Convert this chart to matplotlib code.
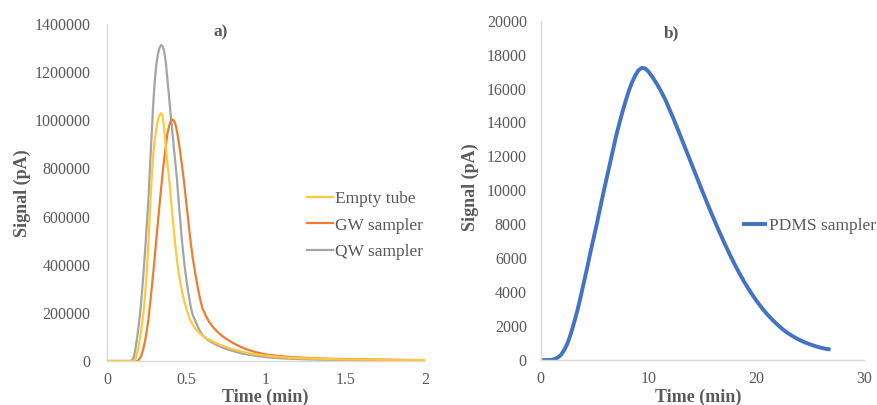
import matplotlib
matplotlib.use("Agg")
import matplotlib.pyplot as plt
from matplotlib.ticker import FixedLocator, FuncFormatter

plt.rcParams["font.family"] = ["Liberation Serif", "DejaVu Serif"]

# ---- panel a) : short-time breakthrough curves ----
empty_t = [0, 0.17, 0.18, 0.19, 0.20, 0.21, 0.22, 0.23, 0.24, 0.25, 0.26, 0.27, 0.28,
           0.29, 0.30, 0.31, 0.32, 0.33, 0.34, 0.35, 0.36, 0.37, 0.38, 0.39, 0.40, 0.41,
           0.42, 0.43, 0.44, 0.45, 0.46, 0.47, 0.48, 0.49, 0.50, 0.52, 0.54, 0.56, 0.58,
           0.60, 0.63, 0.66, 0.70, 0.75, 0.80, 0.85, 0.90, 1.0, 1.1, 1.2, 1.4, 1.6, 1.8,
           2.0]
empty_v = [0, 0, 10000, 35000, 65000, 105000, 150000, 205000, 280000, 370000, 480000,
           620000, 750000, 850000, 918000, 965000, 1000000, 1020000, 1030000, 1018000,
           960000, 890000, 820000, 760000, 690000, 615000, 545000, 480000, 420000,
           370000, 330000, 295000, 265000, 240000, 215000, 175000, 150000, 130000,
           117000, 106000, 93000, 82000, 70000, 58000, 47000, 38000, 31000, 22000,
           16000, 12000, 8000, 6000, 5000, 4000]

gw_t = [0, 0.19, 0.20, 0.21, 0.22, 0.23, 0.24, 0.25, 0.26, 0.27, 0.28, 0.29, 0.30, 0.31,
        0.32, 0.33, 0.34, 0.35, 0.36, 0.37, 0.38, 0.39, 0.40, 0.41, 0.42, 0.43, 0.44,
        0.45, 0.46, 0.47, 0.48, 0.49, 0.50, 0.51, 0.52, 0.53, 0.54, 0.55, 0.56, 0.57,
        0.58, 0.59, 0.60, 0.62, 0.64, 0.67, 0.70, 0.73, 0.77, 0.80, 0.84, 0.88, 0.94,
        1.0, 1.08, 1.15, 1.25, 1.36, 1.5, 1.6, 1.8, 2.0]
gw_v = [0, 0, 5000, 15000, 30000, 55000, 85000, 125000, 170000, 230000, 295000, 360000,
        430000, 503000, 575000, 645000, 715000, 780000, 840000, 895000, 945000, 975000,
        995000, 1003000, 1000000, 985000, 955000, 915000, 870000, 820000, 770000,
        710000, 650000, 590000, 530000, 475000, 425000, 385000, 345000, 310000, 275000,
        245000, 220000, 190000, 165000, 138000, 118000, 101000, 84000, 72000, 59000,
        48000, 36000, 27000, 21000, 17000, 13000, 10000, 8000, 7000, 5000, 3000]

qw_t = [0, 0.15, 0.16, 0.17, 0.18, 0.19, 0.20, 0.21, 0.22, 0.23, 0.24, 0.25, 0.26, 0.27,
        0.28, 0.29, 0.30, 0.31, 0.32, 0.33, 0.34, 0.35, 0.36, 0.37, 0.38, 0.39, 0.40,
        0.41, 0.42, 0.43, 0.44, 0.45, 0.46, 0.47, 0.48, 0.49, 0.50, 0.51, 0.52, 0.53,
        0.54, 0.56, 0.58, 0.60, 0.63, 0.66, 0.70, 0.75, 0.80, 0.85, 0.90, 1.0, 1.1, 1.2,
        1.3, 1.45, 1.6, 1.8, 2.0]
qw_v = [0, 0, 5000, 20000, 55000, 100000, 150000, 210000, 285000, 370000, 460000,
        560000, 665000, 800000, 930000, 1060000, 1160000, 1230000, 1275000, 1300000,
        1313000, 1308000, 1285000, 1240000, 1170000, 1100000, 1025000, 960000, 890000,
        825000, 755000, 670000, 590000, 510000, 445000, 385000, 335000, 290000, 250000,
        215000, 190000, 160000, 130000, 108000, 90000, 77000, 63000, 50000, 40000,
        31000, 25000, 16000, 11000, 8000, 6000, 4000, 3000, 2000, 1000]

a_xticks = [0, 0.5, 1, 1.5, 2]
a_xlabels = ["0", "0.5", "1", "1.5", "2"]
a_yticks = list(range(0, 1400001, 200000))

# ---- panel b) : PDMS sampler ----
pdms_t = [0, 0.5, 1.0, 1.3, 1.6, 1.9, 2.2, 2.5, 2.8, 3.1, 3.4, 3.7, 4.0, 4.3, 4.6, 4.9,
          5.2, 5.5, 5.8, 6.1, 6.4, 6.7, 7.0, 7.3, 7.6, 7.9, 8.2, 8.5, 8.8, 9.1, 9.4, 9.7,
          10.0, 10.4, 10.8, 11.2, 11.6, 12.0, 12.5, 13.0, 13.5, 14.0, 14.5, 15.0, 15.5,
          16.0, 16.5, 17.0, 17.5, 18.0, 18.5, 19.0, 19.5, 20.0, 20.5, 21.0, 21.5, 22.0,
          22.5, 23.0, 23.5, 24.0, 24.5, 25.0, 25.5, 26.0, 26.5, 26.9]
pdms_v = [0, 0, 10, 60, 150, 320, 600, 1000, 1550, 2200, 2900, 3700, 4550, 5400, 6300,
          7150, 8000, 8900, 9800, 10650, 11500, 12350, 13200, 13950, 14650, 15300, 15900,
          16400, 16800, 17100, 17220, 17180, 17000, 16650, 16250, 15800, 15300, 14700,
          13950, 13150, 12350, 11550, 10750, 9950, 9170, 8410, 7670, 6960, 6280, 5640,
          5040, 4485, 3975, 3510, 3090, 2710, 2370, 2065, 1790, 1560, 1360, 1190, 1045,
          920, 815, 725, 655, 620]

b_xticks = [0, 10, 20, 30]
b_yticks = list(range(0, 20001, 2000))

TEXT = "#595959"
SPINE = "#D9D9D9"

fig = plt.figure(figsize=(8.77, 4.05), dpi=100)
ax1 = fig.add_axes([0.122, 0.1086, 0.3626, 0.8321])
ax2 = fig.add_axes([0.6165, 0.111, 0.3687, 0.838])


def style(ax):
    for s in ("top", "right"):
        ax.spines[s].set_visible(False)
    for s in ("left", "bottom"):
        ax.spines[s].set_color(SPINE)
        ax.spines[s].set_linewidth(1.0)
    ax.tick_params(axis="both", length=0, colors=TEXT, labelsize=11.5)
    ax.tick_params(axis="x", pad=8)


ax1.plot(empty_t, empty_v, color="#FFC83D", lw=1.6, label="Empty tube", zorder=3)
ax1.plot(gw_t, gw_v, color="#ED7D31", lw=1.6, label="GW sampler", zorder=2)
ax1.plot(qw_t, qw_v, color="#A5A5A5", lw=1.6, label="QW sampler", zorder=1)
ax1.set_xlim(0, 2)
ax1.set_ylim(0, 1400000)
ax1.xaxis.set_major_locator(FixedLocator(a_xticks))
ax1.set_xticklabels(a_xlabels)
ax1.yaxis.set_major_locator(FixedLocator(a_yticks))
ax1.yaxis.set_major_formatter(FuncFormatter(lambda v, p: f"{int(v)}"))
style(ax1)
ax1.tick_params(axis="y", pad=12)

ax2.plot(pdms_t, pdms_v, color="#4472C4", lw=2.8, label="PDMS sampler",
         solid_capstyle="butt", solid_joinstyle="round")
ax2.set_xlim(0, 30)
ax2.set_ylim(0, 20000)
ax2.xaxis.set_major_locator(FixedLocator(b_xticks))
ax2.yaxis.set_major_locator(FixedLocator(b_yticks))
ax2.yaxis.set_major_formatter(FuncFormatter(lambda v, p: f"{int(v)}"))
style(ax2)
ax2.tick_params(axis="y", pad=10)

for ax, lx, ly, sx, sy in ((ax1, 0.497, -0.107, -0.265, 0.4985),
                           (ax2, 0.4865, -0.109, -0.2165, 0.508)):
    ax.set_xlabel("Time (min)", fontsize=13, fontweight="bold", color=TEXT)
    ax.set_ylabel("Signal (pA)", fontsize=13, fontweight="bold", color=TEXT)
    ax.xaxis.set_label_coords(lx, ly)
    ax.yaxis.set_label_coords(sx, sy)
    ax.xaxis.label.set_va("center")
    ax.yaxis.label.set_va("center")

ax1.text(0.357, 0.975, "a)", transform=ax1.transAxes, ha="center", va="center",
         fontsize=12.5, fontweight="bold", color=TEXT)
ax2.text(0.404, 0.963, "b)", transform=ax2.transAxes, ha="center", va="center",
         fontsize=12.5, fontweight="bold", color=TEXT)

leg1 = ax1.legend(loc="upper left", bbox_to_anchor=(0.63, 0.506), frameon=False,
                  fontsize=12.5, handlelength=1.45, handletextpad=0.15,
                  labelspacing=0.62, borderaxespad=0, borderpad=0)
for t in leg1.get_texts():
    t.set_color(TEXT)

leg2 = ax2.legend(loc="upper left", bbox_to_anchor=(0.6215, 0.418), frameon=False,
                  fontsize=12.5, handlelength=1.45, handletextpad=0.15,
                  borderaxespad=0, borderpad=0)
for t in leg2.get_texts():
    t.set_color(TEXT)

fig.savefig("out.png", dpi=100)
